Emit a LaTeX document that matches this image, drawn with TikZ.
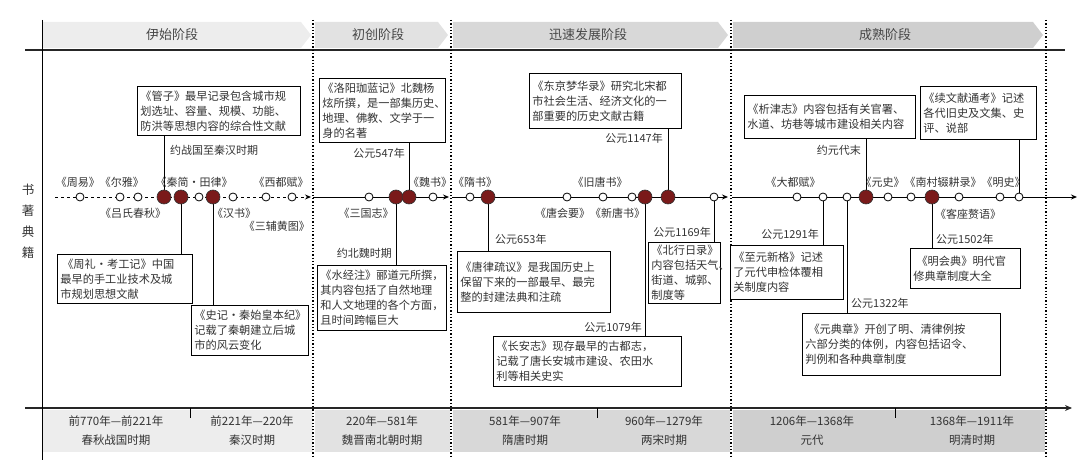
\documentclass[tikz,border=0pt]{standalone}
\usepackage{fontspec}
\setmainfont{Noto Sans CJK SC}
\usetikzlibrary{arrows.meta}
\definecolor{txt}{HTML}{333333}
\definecolor{dred}{HTML}{7A1A1A}
\definecolor{gA}{HTML}{EDEDED}
\definecolor{gB}{HTML}{E2E2E2}
\definecolor{gC}{HTML}{D8D8D8}
\definecolor{gD}{HTML}{CFCFCF}
\tikzset{
 box/.style={draw=black,line width=0.8pt,fill=white,inner sep=3pt,align=left,text=txt,font=\fontsize{11.2}{15}\selectfont},
 lbl/.style={text=txt,inner sep=1pt,font=\fontsize{11}{13}\selectfont},
 ftr/.style={text=txt,align=center,inner sep=0pt,font=\fontsize{11.5}{19}\selectfont},
 hdr/.style={text=txt!90,inner sep=0pt,font=\fontsize{13}{14}\selectfont},
 stem/.style={line width=0.9pt},
 opn/.style={circle,draw=black,fill=white,line width=0.8pt,minimum size=8pt,inner sep=0pt},
 redc/.style={circle,draw=black!80,fill=dred,line width=0.6pt,minimum size=14pt,inner sep=0pt},
 div/.style={line width=1.3pt,dotted},
 tl/.style={line width=0.9pt,-{Stealth[length=6pt,width=5pt]}}
}
\newcommand\mybox[6]{\pgfmathsetmacro\bw{#4-#2}\pgfmathsetmacro\bh{#5-#3}\pgfmathsetmacro\tw{\bw-6}%
 \node[box,minimum width=\bw pt,minimum height=\bh pt,text width=\tw pt,anchor=north west] (#1) at (#2,#3) {#6};}
\begin{document}
\begin{tikzpicture}[x=1pt,y=-1pt]
\useasboundingbox (0,0) rectangle (1080,465);
% header arrows
\foreach \a/\b/\c in {42/311/gA,315/448/gB,453/728/gC,733/1043/gD}{
 \fill[\c] (\a,22) -- (\b-10,22) -- (\b,35) -- (\b-10,48) -- (\a,48) -- cycle;}
\node[hdr] (h1) at (172,35) {伊始阶段};
\node[hdr] (h2) at (378,35) {初创阶段};
\node[hdr] (h3) at (588,35) {迅速发展阶段};
\node[hdr] (h4) at (885,35) {成熟阶段};
% footer bands
\fill[gA] (42,410) rectangle (313,452);
\fill[gB] (315,410) rectangle (450,452);
\fill[gC] (453,410) rectangle (730,452);
\fill[gD] (733,410) rectangle (1045,452);
\node[ftr] (f1) at (116,431) {前770年—前221年\\春秋战国时期};
\node[ftr] (f2) at (252,431) {前221年—220年\\秦汉时期};
\node[ftr] (f3) at (382,431) {220年—581年\\魏晋南北朝时期};
\node[ftr] (f4) at (525,431) {581年—907年\\隋唐时期};
\node[ftr] (f5) at (664,431) {960年—1279年\\两宋时期};
\node[ftr] (f6) at (812,431) {1206年—1368年\\元代};
\node[ftr] (f7) at (972,431) {1368年—1911年\\明清时期};
% frame lines
\draw[line width=1.8pt,black!85] (25,50) -- (1065,50);
\draw[line width=1.8pt,black!85,-{Stealth[length=7pt,width=6pt]}] (25,408) -- (1072,408);
\foreach \x in {190,597,895} \draw[line width=0.9pt] (\x,408) -- (\x,418);
\draw[line width=0.9pt] (42,20) -- (42,460);
\foreach \x in {313,451,731,1046} \draw[div] (\x,20) -- (\x,458);
\node[text=txt,align=center,inner sep=0pt,font=\fontsize{12.5}{21}\selectfont] (side) at (28,221) {书\\著\\典\\籍};
% timeline
\draw[tl,dashed] (55,197) -- (311,197);
\draw[tl] (313,197) -- (449,197);
\draw[tl] (452,197) -- (728,197);
\draw[tl] (732,197) -- (1077,197);
% circle positions
\foreach \n/\x in {rA/164,rB/181,rC/213,rD/396,rE/409,rF/488,rG/645,rH/668,rI/866,rJ/932,
 oA/80,oB/120,oC/138,oD/199,oE/233,oF/266,oG/292,oH/369,oI/433,oJ/470,oK/567,oL/603,oM/632,oN/714,
 oO/797,oZ/823,oY/847,oP/888,oQ/911,oR/959,oS/1000,oX/1019}
 \coordinate (\n) at (\x,197);
% boxes
\mybox{guanzi}{137}{86}{300}{135}{《管子》最早记录包含城市规\\划选址、容量、规模、功能、\\防洪等思想内容的综合性文献}
\mybox{zhouli}{57}{254}{192}{303}{\,《周礼·考工记》中国\\最早的手工业技术及城\\市规划思想文献}
\mybox{shiji}{191}{305}{308}{355}{《史记·秦始皇本纪》\\记载了秦朝建立后城\\市的风云变化}
\mybox{luoyang}{319}{78}{445}{142}{《洛阳珈蓝记》北魏杨\\炫所撰，是一部集历史、\\地理、佛教、文学于一\\身的名著}
\mybox{shuijing}{317}{265}{446}{330}{《水经注》郦道元所撰，\\其内容包括了自然地理\\和人文地理的各个方面，\\且时间跨幅巨大}
\mybox{tanglv}{457}{251}{610}{312}{《唐律疏议》是我国历史上\\保留下来的一部最早、最完\\整的封建法典和注疏}
\mybox{dongjing}{529}{73}{681}{128}{《东京梦华录》研究北宋都\\市社会生活、经济文化的一\\部重要的历史文献古籍}
\mybox{changan}{493}{336}{681}{386}{《长安志》现存最早的古都志，\\记载了唐长安城市建设、农田水\\利等相关史实}
\mybox{beixing}{648}{242}{720}{303}{《北行日录》\\内容包括天气、\\街道、城郭、\\制度等}
\mybox{xijin}{744}{95}{915}{138}{《析津志》内容包括有关官署、\\水道、坊巷等城市建设相关内容}
\mybox{xuwen}{920}{86}{1036}{139}{《续文献通考》记述\\各代旧史及文集、史\\评、说部}
\mybox{zhiyuan}{730}{245}{843}{299}{《至元新格》记述\\了元代申检体覆相\\关制度内容}
\mybox{yuandian}{802}{313}{1000}{375}{\;《元典章》开创了明、清律例按\\六部分类的体例，内容包括诏令、\\判例和各种典章制度}
\mybox{minghui}{910}{248}{1020}{288}{\;《明会典》明代官\\修典章制度大全}
% stems
\draw[stem] (rA) -- (rA |- guanzi.south);
\draw[stem] (rB) -- (rB |- zhouli.north);
\draw[stem] (rC) -- (rC |- shiji.north);
\draw[stem] (rE) -- (rE |- luoyang.south);
\draw[stem] (rD) -- (rD |- shuijing.north);
\draw[stem] (rF) -- (rF |- tanglv.north);
\draw[stem] (rH) -- (rH |- dongjing.south);
\draw[stem] (rG) -- (rG |- changan.north);
\draw[stem] (oN) -- (oN |- beixing.north);
\draw[stem] (rI) -- (rI |- xijin.south);
\draw[stem] (oX) -- (oX |- xuwen.south);
\draw[stem] (oZ) -- (oZ |- zhiyuan.north);
\draw[stem] (oY) -- (oY |- yuandian.north);
\draw[stem] (rJ) -- (rJ |- minghui.north);
% circles
\foreach \n in {rA,rB,rC,rD,rE,rF,rG,rH,rI,rJ} \node[redc] (\n-c) at (\n) {};
\foreach \n in {oA,oB,oC,oD,oE,oF,oG,oH,oI,oJ,oK,oL,oM,oN,oO,oZ,oY,oP,oQ,oR,oS,oX} \node[opn] (\n-c) at (\n) {};
% date labels
\node[lbl,anchor=west] (d1) at (169,150) {约战国至秦汉时期};
\node[lbl,anchor=east] (d2) at (406,153) {公元547年};
\node[lbl,anchor=east] (d3) at (393,253) {约北魏时期};
\node[lbl,anchor=west] (d4) at (494,239) {公元653年};
\node[lbl,anchor=east] (d5) at (664,138) {公元1147年};
\node[lbl,anchor=east] (d6) at (643,327) {公元1079年};
\node[lbl,anchor=east] (d7) at (712,232) {公元1169年};
\node[lbl,anchor=east] (d8) at (862,150) {约元代末};
\node[lbl,anchor=east] (d9) at (820,234) {公元1291年};
\node[lbl,anchor=west] (d10) at (850,303) {公元1322年};
\node[lbl,anchor=west] (d11) at (935,239) {公元1502年};
% book labels
\node[lbl] (b1) at (100,182) {《周易》《尔雅》};
\node[lbl] (b2) at (194,182) {《秦简·田律》};
\node[lbl] (b3) at (281,182) {《西都赋》};
\node[lbl] (b4) at (430,182) {《魏书》};
\node[lbl] (b5) at (475,182) {《隋书》};
\node[lbl] (b6) at (600,182) {《旧唐书》};
\node[lbl] (b7) at (793,182) {《大都赋》};
\node[lbl] (b8) at (943,182) {《元史》《南村辍耕录》《明史》};
\node[lbl] (b9) at (133,213) {《吕氏春秋》};
\node[lbl] (b10) at (234,213) {《汉书》};
\node[lbl,anchor=east] (b11) at (311,226) {《三辅黄图》};
\node[lbl] (b12) at (366,213) {《三国志》};
\node[lbl] (b13) at (590,213) {《唐会要》《新唐书》};
\node[lbl] (b14) at (968,214) {《客座赘语》};
\end{tikzpicture}
\end{document}
